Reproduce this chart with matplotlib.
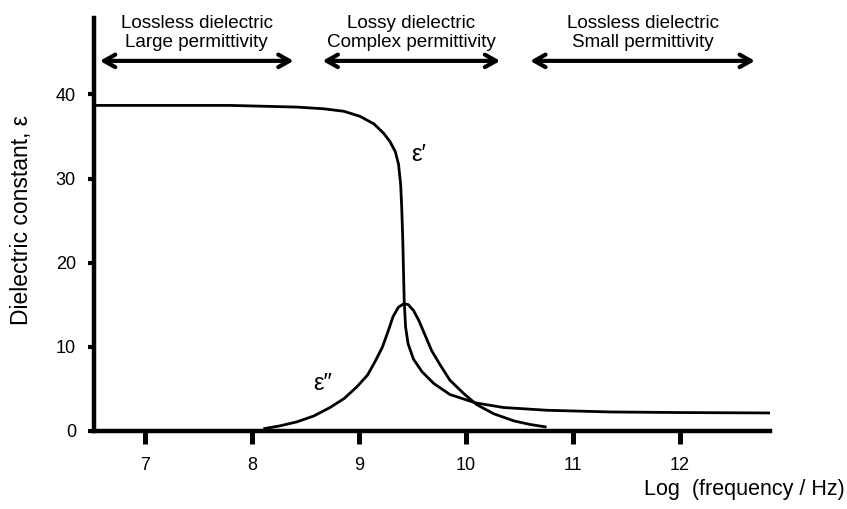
import matplotlib
matplotlib.use('Agg')
import matplotlib.pyplot as plt

# log10 frequency and dielectric constant
eps_real_x = [6.55, 7.80, 8.11, 8.42, 8.67, 8.86, 9.01, 9.14, 9.23, 9.29, 9.34,
              9.37, 9.39, 9.40, 9.41, 9.417, 9.423, 9.436, 9.46, 9.51, 9.59,
              9.70, 9.85, 10.09, 10.35, 10.76, 11.35, 12.0, 12.84]
eps_real_y = [38.7, 38.7, 38.6, 38.5, 38.3, 38.0, 37.4, 36.5, 35.4, 34.4, 33.2,
              31.7, 29.3, 26.5, 22.6, 18.7, 15.5, 12.3, 10.3, 8.5, 7.0,
              5.6, 4.3, 3.3, 2.75, 2.42, 2.22, 2.15, 2.1]

eps_imag_x = [8.12, 8.26, 8.42, 8.58, 8.73, 8.86, 8.98, 9.08, 9.15, 9.22, 9.28,
              9.32, 9.37, 9.42, 9.46, 9.51, 9.56, 9.62, 9.68, 9.76, 9.85,
              9.98, 10.10, 10.26, 10.45, 10.60, 10.74]
eps_imag_y = [0.25, 0.56, 1.04, 1.75, 2.75, 3.8, 5.2, 6.6, 8.2, 9.95, 12.1,
              13.6, 14.7, 15.1, 15.0, 14.3, 13.1, 11.3, 9.5, 7.8, 6.0,
              4.4, 3.1, 2.0, 1.15, 0.73, 0.45]

x_ticks = [7, 8, 9, 10, 11, 12]
y_ticks = [0, 10, 20, 30, 40]

regions = [
    (6.58, 8.39, 'Lossless dielectric\nLarge permittivity'),
    (8.66, 10.32, 'Lossy dielectric\nComplex permittivity'),
    (10.60, 12.70, 'Lossless dielectric\nSmall permittivity'),
]

plt.rcParams['font.family'] = ['Liberation Sans', 'DejaVu Sans']

fig = plt.figure(figsize=(8.47, 5.09), dpi=100)
ax = fig.add_axes([0.111, 0.154, 0.909 - 0.111, 0.9646 - 0.154])

ax.plot(eps_real_x, eps_real_y, color='black', lw=2.0)
ax.plot(eps_imag_x, eps_imag_y, color='black', lw=2.0)

ax.set_xlim(6.525, 12.84)
ax.set_ylim(0, 49.1)
ax.spines['top'].set_visible(False)
ax.spines['right'].set_visible(False)
ax.spines['left'].set_linewidth(3.2)
ax.spines['bottom'].set_linewidth(3.2)
ax.set_xticks(x_ticks)
ax.set_yticks(y_ticks)
ax.tick_params(axis='x', direction='in', length=0, labelsize=13, pad=19)
ax.tick_params(axis='y', direction='out', length=4, width=3, labelsize=13, pad=9)
# x ticks hang below the axis line
for t in x_ticks:
    ax.plot([t, t], [0, -1.55], color='black', lw=3.6, clip_on=False,
            solid_capstyle='butt')

fig.text(22 / 847, 0.568, 'Dielectric constant, ε', fontsize=16.5,
         rotation=90, ha='center', va='center')
fig.text(0.997, 0.018, 'Log  (frequency / Hz)', fontsize=15.5, ha='right', va='bottom')

for x0, x1, label in regions:
    ax.annotate('', xy=(x0, 44.0), xytext=(x1, 44.0), xycoords='data',
                annotation_clip=False,
                arrowprops=dict(arrowstyle='<->,head_length=0.8,head_width=0.45',
                                lw=3.0, color='black', shrinkA=0, shrinkB=0))
    ax.text((x0 + x1) / 2, 45.2, label, ha='center', va='bottom', fontsize=13.6,
            linespacing=1.12, clip_on=False)

ax.text(9.56, 32.8, 'ε′', fontsize=17, ha='center', va='center')
ax.text(8.66, 5.6, 'ε″', fontsize=17, ha='center', va='center')

fig.savefig('out.png', dpi=100)
